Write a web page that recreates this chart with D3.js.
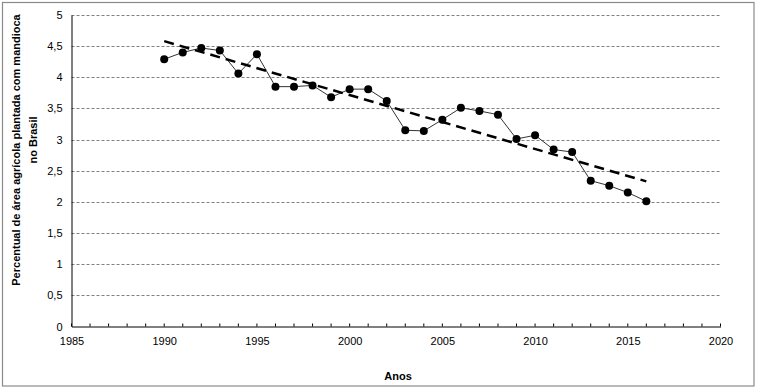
<!DOCTYPE html>
<html><head><meta charset="utf-8">
<script src="https://cdn.jsdelivr.net/npm/d3@7"></script>
<style>body{margin:0;background:#fff}svg{display:block}text{font-family:"Liberation Sans",Arial,sans-serif}</style>
</head><body>
<svg id="c" width="757" height="390"></svg>
<script>
const years = [1990,1991,1992,1993,1994,1995,1996,1997,1998,1999,2000,2001,2002,2003,2004,2005,2006,2007,2008,2009,2010,2011,2012,2013,2014,2015,2016];
const values = [4.29,4.40,4.47,4.43,4.06,4.37,3.85,3.85,3.87,3.68,3.81,3.81,3.62,3.15,3.14,3.32,3.51,3.46,3.40,3.01,3.07,2.84,2.80,2.34,2.26,2.15,2.01];
const trendYears = [1990,2016];
const trendValues = [4.58,2.33];
const xTicks = [1985,1990,1995,2000,2005,2010,2015,2020];
const yTicks = [0,0.5,1,1.5,2,2.5,3,3.5,4,4.5,5];
const yLabelLines = ["Percentual de área agrícola plantada com mandioca","no Brasil"];
const xLabel = "Anos";

const svg = d3.select("#c");
svg.append("rect").attr("x",2.5).attr("y",2.5).attr("width",751.5).attr("height",383.5)
  .attr("fill","#fff").attr("stroke","#8a8a8a").attr("stroke-width",1.2);

const x = d3.scaleLinear().domain([1985,2020]).range([71.5,720.5]);
const y = d3.scaleLinear().domain([0,5]).range([326.5,15]);
const fmt = d => String(d).replace(".",",");

// gridlines
svg.append("g").selectAll("line").data(yTicks.filter(d=>d>0)).join("line")
  .attr("x1",x(1985)).attr("x2",x(2020))
  .attr("y1",d=>Math.round(y(d))+0.5).attr("y2",d=>Math.round(y(d))+0.5)
  .attr("stroke","#808080").attr("stroke-width",1).attr("stroke-dasharray","3,2");

// y axis
const yAxis = svg.append("g").attr("transform",`translate(${x(1985)},0)`)
  .call(d3.axisLeft(y).tickValues(yTicks).tickFormat(fmt).tickSize(0).tickPadding(9));
yAxis.select(".domain").attr("stroke","#000");
yAxis.selectAll("text").attr("font-size",11).attr("fill","#000");

// x axis
const xAxis = svg.append("g").attr("transform",`translate(0,${y(0)})`)
  .call(d3.axisBottom(x).tickValues(xTicks).tickFormat(d3.format("d")).tickSize(0).tickPadding(11));
xAxis.select(".domain").attr("stroke","#000");
xAxis.selectAll("text").attr("font-size",11).attr("fill","#000");
// minor ticks each year (pointing up)
svg.append("g").selectAll("line").data(d3.range(1985,2021)).join("line")
  .attr("x1",d=>x(d)).attr("x2",d=>x(d)).attr("y1",y(0)).attr("y2",y(0)-3)
  .attr("stroke","#000").attr("stroke-width",1);

// data line
const pts = years.map((yr,i)=>[yr,values[i]]);
svg.append("path").datum(pts)
  .attr("d",d3.line().x(d=>x(d[0])).y(d=>y(d[1])))
  .attr("fill","none").attr("stroke","#333").attr("stroke-width",1);

// trend
const tpts = trendYears.map((yr,i)=>[yr,trendValues[i]]);
svg.append("path").datum(tpts)
  .attr("d",d3.line().x(d=>x(d[0])).y(d=>y(d[1])))
  .attr("fill","none").attr("stroke","#000").attr("stroke-width",2.5).attr("stroke-dasharray","10,6");

svg.append("g").selectAll("circle").data(pts).join("circle")
  .attr("cx",d=>x(d[0])).attr("cy",d=>y(d[1])).attr("r",4).attr("fill","#000");

// labels
svg.append("text").attr("transform","translate(20,150) rotate(-90)")
  .attr("text-anchor","middle").attr("font-size",11).attr("font-weight","bold").text(yLabelLines[0]);
svg.append("text").attr("transform","translate(37,140) rotate(-90)")
  .attr("text-anchor","middle").attr("font-size",11).attr("font-weight","bold").text(yLabelLines[1]);
svg.append("text").attr("x",398).attr("y",380).attr("text-anchor","middle")
  .attr("font-size",11).attr("font-weight","bold").text(xLabel);
</script>
</body></html>
